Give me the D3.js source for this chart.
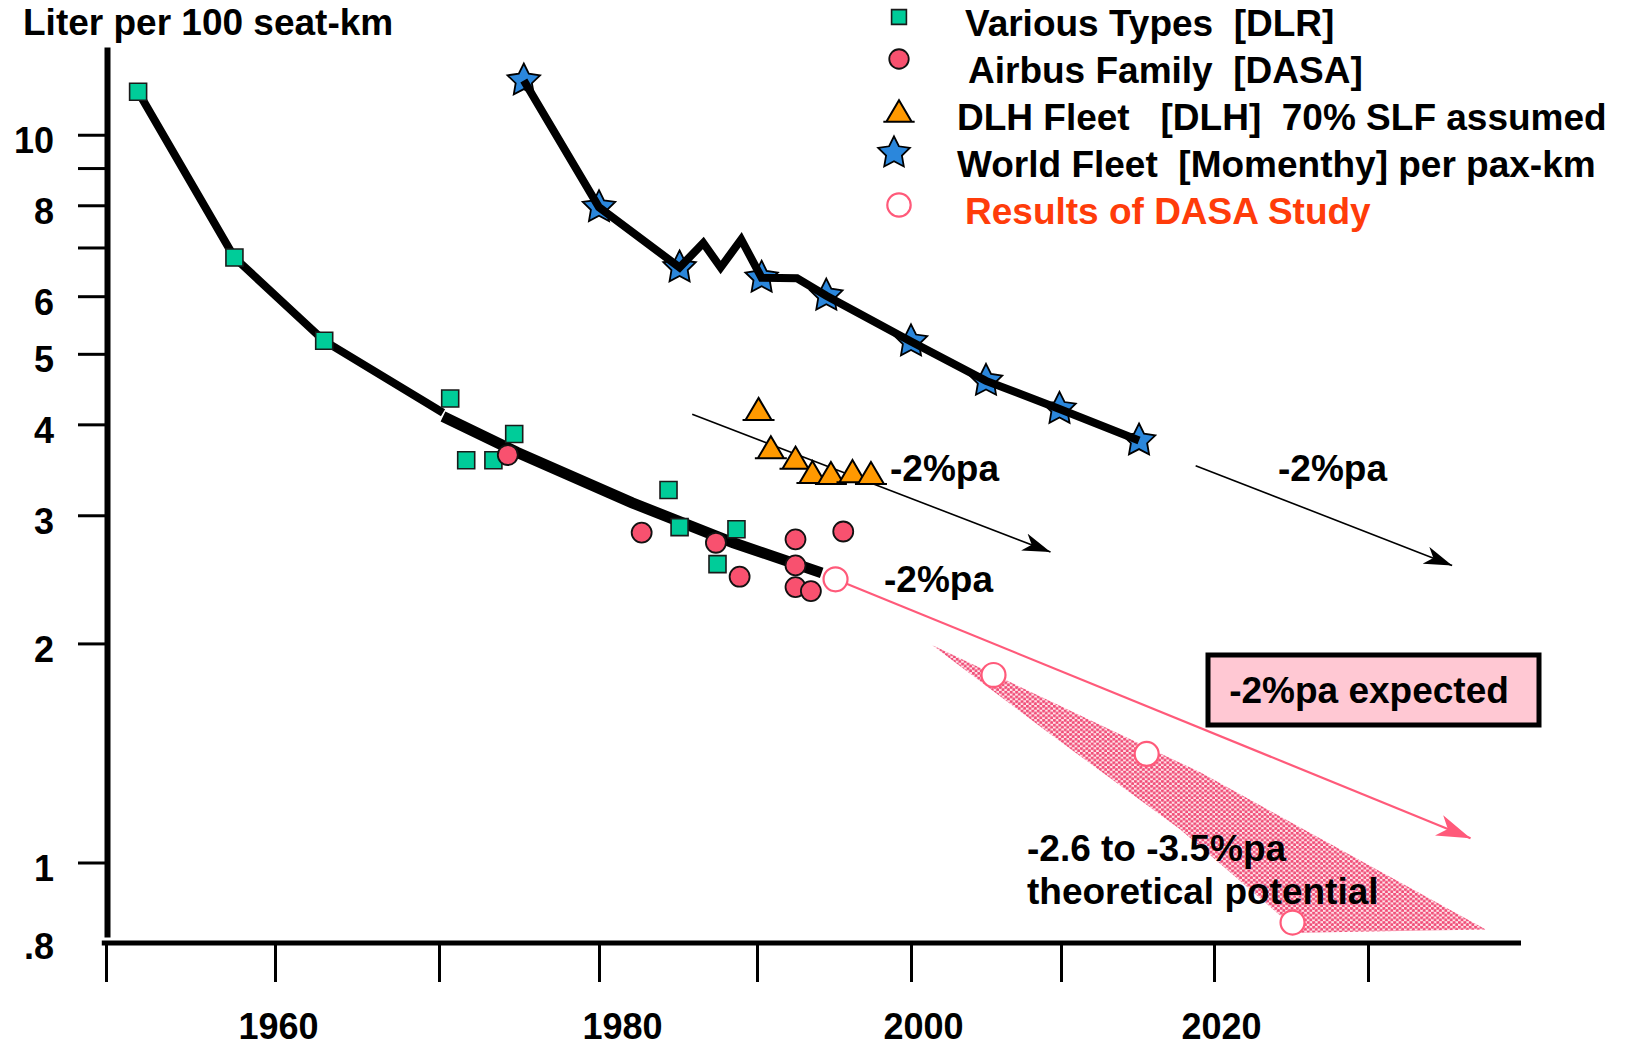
<!DOCTYPE html>
<html>
<head>
<meta charset="utf-8">
<script src="https://cdn.jsdelivr.net/npm/d3@7"></script>
<style>
  body { margin: 0; background: #fff; overflow: hidden; }
  svg { display: block; }
  svg text { font-family: "Liberation Sans", Arial, sans-serif; font-weight: bold; white-space: pre; }
</style>
</head>
<body>
<div id="chart"></div>
<script>
// ---- data (year, liter per 100 seat-km) ----
const dlrYears   = [1951.9, 1957.6, 1963.0, 1970.7, 1971.7, 1973.4, 1974.7, 1984.4, 1985.1, 1987.5, 1988.7];
const dlrValues  = [11.46, 6.78, 5.21, 4.34, 3.57, 3.57, 3.88, 3.25, 2.89, 2.57, 2.87];

const airbusYears  = [1974.3, 1982.7, 1987.4, 1988.9, 1992.5, 1992.5, 1992.5, 1993.5, 1995.6];
const airbusValues = [3.63, 2.84, 2.75, 2.47, 2.78, 2.56, 2.39, 2.36, 2.85];

const dlhYears  = [1990.1, 1990.9, 1992.5, 1993.6, 1994.8, 1996.2, 1997.4];
const dlhValues = [4.20, 3.72, 3.60, 3.44, 3.43, 3.45, 3.43];

const worldYears  = [1975.3, 1980.0, 1985.1, 1990.3, 1994.5, 2000.0, 2005.0, 2009.9, 2015.1];
const worldValues = [11.87, 7.95, 6.57, 6.36, 6.01, 5.20, 4.59, 4.20, 3.80];
// world fleet line, incl. the yearly wiggle between the stars
const worldLineYears  = [1975.3, 1980.0, 1985.1, 1986.6, 1987.7, 1989.0, 1990.3, 1992.6, 1994.5, 2000.0, 2005.0, 2009.9, 2015.1];
const worldLineValues = [11.87, 7.95, 6.57, 7.10, 6.57, 7.18, 6.36, 6.35, 6.01, 5.20, 4.59, 4.20, 3.80];

const dasaYears  = [1995.1, 2005.5, 2015.6, 2025.1];
const dasaValues = [2.45, 1.81, 1.41, 0.827];

// DLR trend line (two strokes)
const trendEarlyYears  = [1951.9, 1957.6, 1963.0, 1970.25];
const trendEarlyValues = [11.46, 6.78, 5.21, 4.15];
const trendLateYears   = [1970.25, 1974.9, 1982.1, 1988.5, 1994.2];
const trendLateValues  = [4.10, 3.66, 3.12, 2.75, 2.50];

// -2%pa arrows
const arrowFromYears  = [1985.9, 2018.8, 1995.1];
const arrowFromValues = [4.13, 3.51, 2.45];
const arrowToYears    = [2009.3, 2035.5, 2036.7];
const arrowToValues   = [2.67, 2.56, 1.08];

// theoretical potential band
const bandYears  = [2001.4, 2019.1, 2037.7, 2025.6, 2017.8, 2009.3];
const bandValues = [1.99, 1.33, 0.809, 0.801, 1.11, 1.50];

const yTicks      = [10, 9, 8, 7, 6, 5, 4, 3, 2, 1, 0.8];
const yTickLabels = ['10', '', '8', '', '6', '5', '4', '3', '2', '1', '.8'];
const xTicks      = [1950, 1960, 1970, 1980, 1990, 2000, 2010, 2020, 2030];
const xTickLabels = ['', '1960', '', '1980', '', '2000', '', '2020', ''];

const legendLabels = ['Various Types  [DLR]', 'Airbus Family  [DASA]', 'DLH Fleet   [DLH]  70% SLF assumed',
                      'World Fleet  [Momenthy] per pax-km', 'Results of DASA Study'];

// ---- chart ----
const w = 1627, h = 1048;
const pink = '#FF5A7A';
const svg = d3.select('#chart').append('svg').attr('width', w).attr('height', h);

// the printed year axis is slightly uneven, so the scale follows its ticks
const xScale = d3.scaleLinear()
  .domain([1950, 1960, 1970, 1980, 1990, 2000, 2010, 2020, 2030, 2040])
  .range([106, 275, 439, 599, 757, 911, 1061, 1214, 1368, 1521]);
const yScale = d3.scaleLog().domain([0.79, 13.2]).range([937, 47]);

const line = d3.line().x(d => xScale(d[0])).y(d => yScale(d[1]));

const defs = svg.append('defs');
const pat = defs.append('pattern').attr('id', 'dots').attr('patternUnits', 'userSpaceOnUse')
  .attr('width', 5.4).attr('height', 4.7);
pat.append('rect').attr('width', 5.4).attr('height', 4.7).attr('fill', '#FFE4EA');
pat.append('circle').attr('cx', 1.35).attr('cy', 1.17).attr('r', 1.6).attr('fill', '#F04E78');
pat.append('circle').attr('cx', 4.05).attr('cy', 3.52).attr('r', 1.6).attr('fill', '#F04E78');
defs.append('filter').attr('id', 'soft').append('feGaussianBlur').attr('stdDeviation', 0.5);

function arrowHead(id, color, len, half) {
  defs.append('marker').attr('id', id).attr('markerUnits', 'userSpaceOnUse')
    .attr('viewBox', `${-len} ${-half} ${len + 1} ${half * 2}`)
    .attr('refX', 0).attr('refY', 0)
    .attr('markerWidth', len + 1).attr('markerHeight', half * 2)
    .attr('orient', 'auto')
    .append('path').attr('d', `M0,0L${-len},${-half}L${-len * 0.72},0L${-len},${half}Z`).attr('fill', color);
}
arrowHead('headBlack', '#000', 28, 9);
arrowHead('headPink', pink, 34, 11);

// band
svg.append('path')
  .datum(d3.zip(bandYears, bandValues))
  .attr('d', d => line(d) + 'Z')
  .attr('fill', 'url(#dots)')
  .attr('filter', 'url(#soft)');

// arrows
const arrows = d3.range(arrowFromYears.length).map(i => [[arrowFromYears[i], arrowFromValues[i]], [arrowToYears[i], arrowToValues[i]]]);
svg.selectAll('.arrow').data(arrows).enter().append('path')
  .attr('class', 'arrow')
  .attr('d', d => line(d))
  .attr('fill', 'none')
  .attr('stroke', (d, i) => i === 2 ? pink : '#000')
  .attr('stroke-width', (d, i) => i === 2 ? 2.2 : 1.6)
  .attr('marker-end', (d, i) => i === 2 ? 'url(#headPink)' : 'url(#headBlack)');

// DLR trend
svg.append('path').datum(d3.zip(trendEarlyYears, trendEarlyValues))
  .attr('d', line).attr('fill', 'none').attr('stroke', '#000').attr('stroke-width', 8);
svg.append('path').datum(d3.zip(trendLateYears, trendLateValues))
  .attr('d', line).attr('fill', 'none').attr('stroke', '#000').attr('stroke-width', 11);

// symbols
const triangleType = {
  draw(ctx, size) {
    const s = Math.sqrt(size);
    ctx.moveTo(0, -s * 0.85); ctx.lineTo(s, s * 0.85); ctx.lineTo(-s, s * 0.85); ctx.closePath();
    ctx.moveTo(-s - 3, s * 0.85); ctx.lineTo(s + 3, s * 0.85);
  }
};
const fatStar = {
  draw(ctx, size) {
    const R = Math.sqrt(size) * 0.9, r = R * 0.5;
    for (let i = 0; i < 10; i++) {
      const a = -Math.PI / 2 + i * Math.PI / 5, rr = i % 2 ? r : R;
      if (i === 0) ctx.moveTo(rr * Math.cos(a), rr * Math.sin(a));
      else ctx.lineTo(rr * Math.cos(a), rr * Math.sin(a));
    }
    ctx.closePath();
  }
};
const symbols = [
  { type: d3.symbolSquare, size: 289, fill: '#00CC99', stroke: '#1a1a1a', sw: 1.6 },
  { type: d3.symbolCircle, size: 314, fill: '#F8516F', stroke: '#111', sw: 1.8 },
  { type: triangleType, size: 169, fill: '#FF9900', stroke: '#000', sw: 2 },
  { type: fatStar, size: 360, fill: '#2B87DC', stroke: '#000', sw: 1.8 },
  { type: d3.symbolCircle, size: 452, fill: '#fff', stroke: pink, sw: 2.2 }
];

function drawPoints(years, values, k, cls) {
  const s = symbols[k];
  svg.selectAll('.' + cls).data(d3.zip(years, values)).enter().append('path')
    .attr('class', cls)
    .attr('transform', d => `translate(${xScale(d[0])},${yScale(d[1])})`)
    .attr('d', d3.symbol().type(s.type).size(s.size))
    .attr('fill', s.fill).attr('stroke', s.stroke).attr('stroke-width', s.sw);
}

drawPoints(worldYears, worldValues, 3, 'world');
svg.append('path').datum(d3.zip(worldLineYears, worldLineValues))
  .attr('d', line).attr('fill', 'none').attr('stroke', '#000').attr('stroke-width', 8).attr('stroke-linejoin', 'miter');

drawPoints(dlrYears, dlrValues, 0, 'dlr');
drawPoints(airbusYears, airbusValues, 1, 'airbus');
drawPoints(dlhYears, dlhValues, 2, 'dlh');
drawPoints(dasaYears, dasaValues, 4, 'dasa');

// axes
const yAxis = d3.axisLeft(yScale).tickValues(yTicks)
  .tickFormat((d, i) => yTickLabels[i]).tickSize(29).tickSizeOuter(0).tickPadding(24);
const gy = svg.append('g').attr('transform', 'translate(107,0)').call(yAxis);
gy.select('.domain').attr('stroke-width', 6);
gy.selectAll('.tick line').attr('stroke-width', 3).attr('opacity', d => d < 1 ? 0 : 1);
gy.selectAll('.tick text').attr('font-size', 36).attr('fill', '#000').attr('dy', d => d < 1 ? '0.72em' : '0.5em');

const xLabelNudge = [0, 3, 0, 23, 0, 12, 0, 7, 0];
const xAxis = d3.axisBottom(xScale).tickValues(xTicks)
  .tickFormat((d, i) => xTickLabels[i]).tickSize(38).tickSizeOuter(0).tickPadding(31);
const gx = svg.append('g').attr('transform', 'translate(0,944)').call(xAxis);
gx.select('.domain').remove();
gx.selectAll('.tick line').attr('stroke-width', 3);
gx.selectAll('.tick text').attr('font-size', 36).attr('fill', '#000').attr('dx', (d, i) => xLabelNudge[i]);
svg.append('line')
  .attr('x1', xScale(1949.75)).attr('x2', xScale(2040))
  .attr('y1', 943).attr('y2', 943)
  .attr('stroke', '#000').attr('stroke-width', 5);

// title
svg.append('text').text('Liter per 100 seat-km').attr('x', 23).attr('y', 35).attr('font-size', 37);

// legend
const legendTextX = [965, 968, 957, 957, 965];
legendLabels.forEach((label, i) => {
  const s = symbols[i];
  const by = 36 + i * 47;
  svg.append('path')
    .attr('transform', `translate(${i === 3 ? 894 : 899},${by - (i === 1 || i === 3 ? 24 : 19)})`)
    .attr('d', d3.symbol().type(s.type).size(i === 0 ? 220 : s.size * 0.95))
    .attr('fill', s.fill).attr('stroke', s.stroke).attr('stroke-width', s.sw);
  svg.append('text').text(label)
    .attr('x', legendTextX[i]).attr('y', by)
    .attr('font-size', 37)
    .attr('fill', i === 4 ? '#FF3C0A' : '#000');
});

// annotations
function note(txt, x, y) {
  return svg.append('text').text(txt).attr('x', x).attr('y', y).attr('font-size', 37).attr('fill', '#000');
}
note('-2%pa', 890, 481);
note('-2%pa', 1278, 481);
note('-2%pa', 884, 592);
note('-2.6 to -3.5%pa', 1027, 861);
note('theoretical potential', 1027, 904);

svg.append('rect').attr('x', 1208).attr('y', 655).attr('width', 331).attr('height', 70)
  .attr('fill', '#FFC8D3').attr('stroke', '#000').attr('stroke-width', 5);
note('-2%pa expected', 1369, 703).attr('text-anchor', 'middle');
</script>
</body>
</html>
